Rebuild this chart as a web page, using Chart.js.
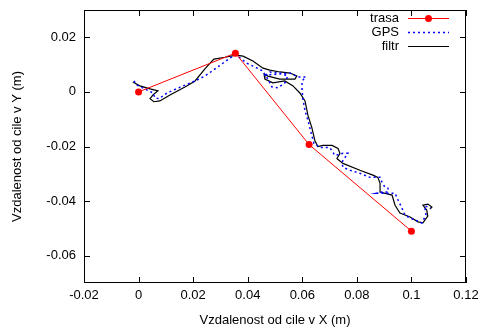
<!DOCTYPE html>
<html>
<head>
<meta charset="utf-8">
<script src="https://cdn.jsdelivr.net/npm/chart.js@4"></script>
<style>
  body { margin: 0; background: #fff; }
</style>
</head>
<body>
<canvas id="chart" width="481" height="329"></canvas>
<script>
// planned route
const trasaX = [0, 0.0355, 0.0625, 0.1];
const trasaY = [0, 0.0142, -0.0193, -0.051];

// raw GPS track
const gpsX = [-0.0017, -0.0006, 0.0023, 0.0053, 0.0060, 0.0075, 0.0104, 0.0163, 0.0207, 0.0243,
  0.0280, 0.0309, 0.0335, 0.0357, 0.0397, 0.0427, 0.0456, 0.0474, 0.0489, 0.0511,
  0.0536, 0.0547, 0.0518, 0.0481, 0.0467, 0.0511, 0.0555, 0.0584, 0.0613, 0.0599,
  0.0599, 0.0602, 0.0610, 0.0621, 0.0632, 0.0643, 0.0665, 0.0701, 0.0720, 0.0749,
  0.0767, 0.0745, 0.0749, 0.0775, 0.0811, 0.0848, 0.0885, 0.0892, 0.0903, 0.0914,
  0.0914, 0.0892, 0.0874, 0.0940, 0.0951, 0.0965, 0.0976, 0.0995, 0.1013, 0.1038,
  0.1053, 0.1049, 0.1071];
const gpsY = [0.0040, 0.0025, 0.0011, -0.0004, -0.0022, -0.0025, -0.0004, 0.0022, 0.0040, 0.0058,
  0.0084, 0.0105, 0.0124, 0.0135, 0.0105, 0.0091, 0.0076, 0.0047, 0.0018, 0.0015,
  0.0033, 0.0058, 0.0069, 0.0073, 0.0062, 0.0065, 0.0069, 0.0055, 0.0055, 0.0040,
  0.0011, -0.0025, -0.0069, -0.0105, -0.0149, -0.0189, -0.0204, -0.0204, -0.0233, -0.0225,
  -0.0225, -0.0258, -0.0276, -0.0287, -0.0298, -0.0313, -0.0313, -0.0331, -0.0349, -0.0353,
  -0.0367, -0.0367, -0.0371, -0.0371, -0.0396, -0.0425, -0.0451, -0.0462, -0.0469, -0.0480,
  -0.0451, -0.0418, -0.0425];

// filtered track
const filtrX = [-0.0021, 0.0005, 0.0042, 0.0071, 0.0053, 0.0042, 0.0056, 0.0078, 0.0115, 0.0170,
  0.0207, 0.0243, 0.0276, 0.0317, 0.0357, 0.0383, 0.0419, 0.0456, 0.0481, 0.0518,
  0.0555, 0.0580, 0.0573, 0.0518, 0.0474, 0.0460, 0.0463, 0.0492, 0.0536, 0.0566,
  0.0591, 0.0610, 0.0621, 0.0635, 0.0646, 0.0657, 0.0676, 0.0709, 0.0731, 0.0738,
  0.0727, 0.0749, 0.0811, 0.0859, 0.0877, 0.0885, 0.0885, 0.0929, 0.0940, 0.0958,
  0.0995, 0.1024, 0.1042, 0.1060, 0.1056, 0.1042, 0.1060, 0.1075, 0.1068];
const filtrY = [0.0036, 0.0022, 0.0011, 0.0004, -0.0011, -0.0025, -0.0036, -0.0033, -0.0011, 0.0018,
  0.0040, 0.0084, 0.0120, 0.0127, 0.0135, 0.0131, 0.0113, 0.0087, 0.0080, 0.0073,
  0.0069, 0.0058, 0.0047, 0.0047, 0.0058, 0.0065, 0.0047, 0.0033, 0.0040, 0.0022,
  -0.0004, -0.0033, -0.0087, -0.0131, -0.0178, -0.0200, -0.0196, -0.0196, -0.0207, -0.0225,
  -0.0244, -0.0262, -0.0287, -0.0305, -0.0313, -0.0335, -0.0367, -0.0378, -0.0415, -0.0444,
  -0.0458, -0.0476, -0.0480, -0.0455, -0.0433, -0.0415, -0.0411, -0.0422, -0.0429];

const xTicks = [-0.02, 0, 0.02, 0.04, 0.06, 0.08, 0.1, 0.12];
const yTicks = [-0.06, -0.04, -0.02, 0, 0.02];

const FONT = "'Liberation Sans', Arial, sans-serif";

function pts(xs, ys) {
  return xs.map((x, i) => ({ x: x, y: ys[i] }));
}

function fmt(v) {
  return String(Number(v.toFixed(3)));
}

// gnuplot-like frame: box, inward ticks on all sides, key in the corner
const frame = {
  id: "frame",
  afterDraw(chart) {
    const ctx = chart.ctx;
    const a = chart.chartArea;
    const sx = chart.scales.x;
    const sy = chart.scales.y;
    ctx.save();
    ctx.strokeStyle = "#000";
    ctx.lineWidth = 1;
    ctx.strokeRect(Math.round(a.left) + 0.5, Math.round(a.top) + 0.5,
      Math.round(a.right - a.left) - 1, Math.round(a.bottom - a.top) - 1);
    ctx.beginPath();
    xTicks.forEach(v => {
      const px = Math.round(sx.getPixelForValue(v)) + 0.5;
      ctx.moveTo(px, a.bottom); ctx.lineTo(px, a.bottom - 6);
      ctx.moveTo(px, a.top); ctx.lineTo(px, a.top + 6);
    });
    yTicks.forEach(v => {
      const py = Math.round(sy.getPixelForValue(v)) + 0.5;
      ctx.moveTo(a.left, py); ctx.lineTo(a.left + 6, py);
      ctx.moveTo(a.right, py); ctx.lineTo(a.right - 6, py);
    });
    ctx.stroke();

    // key
    ctx.font = "13px " + FONT;
    ctx.textAlign = "right";
    ctx.textBaseline = "middle";
    ctx.fillStyle = "#000";
    const rows = [18, 32, 46];
    chart.data.datasets.forEach((ds, i) => {
      const y = rows[i];
      ctx.fillText(ds.label, 399, y);
      ctx.beginPath();
      ctx.strokeStyle = ds.borderColor;
      ctx.lineWidth = ds.borderWidth;
      ctx.setLineDash(ds.borderDash || []);
      ctx.moveTo(408, y + 0.5);
      ctx.lineTo(449, y + 0.5);
      ctx.stroke();
      ctx.setLineDash([]);
      if (ds.pointRadius > 0) {
        ctx.beginPath();
        ctx.fillStyle = ds.pointBackgroundColor;
        ctx.arc(428.5, y + 0.5, ds.pointRadius, 0, Math.PI * 2);
        ctx.fill();
        ctx.fillStyle = "#000";
      }
    });
    ctx.restore();
  }
};

new Chart(document.getElementById("chart"), {
  type: "scatter",
  data: {
    datasets: [
      {
        label: "trasa",
        data: pts(trasaX, trasaY),
        showLine: true,
        borderColor: "#ff0000",
        borderWidth: 1,
        pointRadius: 3.5,
        pointBackgroundColor: "#ff0000",
        pointBorderWidth: 0
      },
      {
        label: "GPS",
        data: pts(gpsX, gpsY),
        showLine: true,
        borderColor: "#0000ff",
        borderWidth: 1.5,
        borderDash: [2, 3],
        pointRadius: 0
      },
      {
        label: "filtr",
        data: pts(filtrX, filtrY),
        showLine: true,
        borderColor: "#000000",
        borderWidth: 1.2,
        pointRadius: 0
      }
    ]
  },
  options: {
    responsive: false,
    animation: false,
    devicePixelRatio: 1,
    layout: { padding: { top: 10, right: 15, left: 0, bottom: 0 } },
    plugins: { legend: { display: false }, tooltip: { enabled: false } },
    scales: {
      x: {
        type: "linear",
        min: -0.02,
        max: 0.12,
        afterBuildTicks: s => { s.ticks = xTicks.map(v => ({ value: v })); },
        afterFit: s => { s.height = 46; s.paddingLeft = 0; s.paddingRight = 0; },
        grid: { display: false, drawTicks: false },
        border: { display: false },
        ticks: { color: "#000", padding: 5, maxRotation: 0, font: { family: FONT, size: 13 }, callback: v => fmt(v) },
        title: { display: true, text: "Vzdalenost od cile v X (m)", color: "#000", padding: { top: 0, bottom: 1 }, font: { family: FONT, size: 13 } }
      },
      y: {
        type: "linear",
        min: -0.07,
        max: 0.03,
        afterBuildTicks: s => { s.ticks = yTicks.map(v => ({ value: v })); },
        afterFit: s => { s.width = 84; s.paddingTop = 0; s.paddingBottom = 0; },
        grid: { display: false, drawTicks: false },
        border: { display: false },
        ticks: { color: "#000", padding: 8, font: { family: FONT, size: 13 }, callback: v => fmt(v) },
        title: { display: true, text: "Vzdalenost od cile v Y (m)", color: "#000", padding: { top: 10, bottom: 0 }, font: { family: FONT, size: 13 } }
      }
    }
  },
  plugins: [frame]
});
</script>
</body>
</html>
